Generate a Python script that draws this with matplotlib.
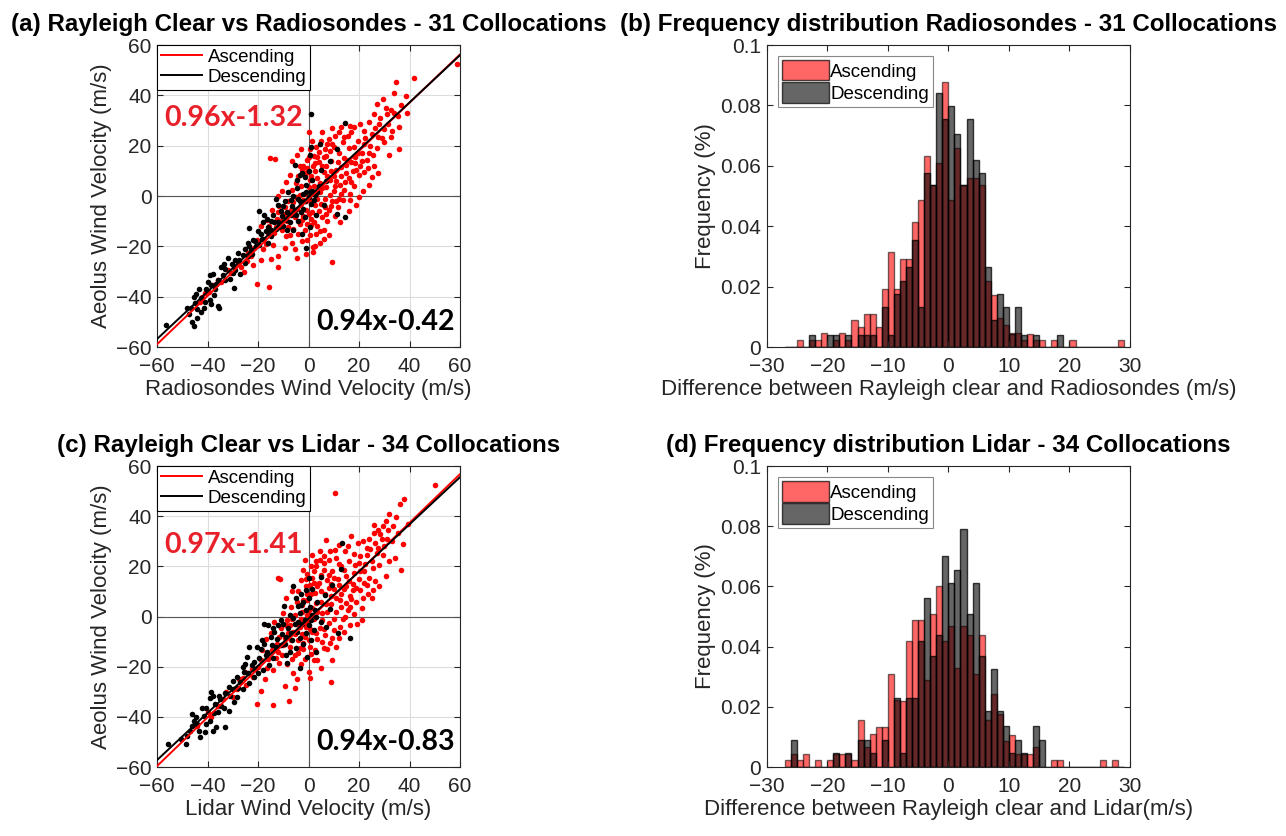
import numpy as np
import matplotlib.pyplot as plt
from matplotlib.patches import Patch

plt.rcParams['font.family'] = ['Liberation Sans', 'DejaVu Sans']

# ---- scatter data (x = reference wind, y = Aeolus wind) ----
asc_a = [
    (58.7, 52.5), (41.6, 47.0), (34.6, 45.3), (34.0, 40.8), (38.5, 39.6), (27.0, 36.7), (29.5, 38.5), (36.8, 36.0),
    (30.5, 35.0), (32.5, 34.0), (33.8, 33.0), (31.0, 32.5), (35.5, 32.0), (28.5, 31.0), (31.5, 28.5), (36.0, 27.5),
    (33.0, 26.0), (30.0, 26.5), (26.5, 27.0), (24.0, 29.5), (20.5, 28.5), (22.0, 26.0), (25.0, 24.5), (27.5, 23.5),
    (29.0, 23.0), (24.5, 20.0), (22.0, 20.5), (19.5, 22.0), (17.0, 25.5), (35.7, 18.7), (31.7, 16.3), (25.0, 7.5),
    (19.0, -3.4), (16.3, 0.7), (21.0, 17.0), (18.5, 15.5), (16.0, 19.0), (13.5, 21.5), (12.0, 17.0), (15.0, 12.5),
    (17.5, 10.0), (20.5, 12.0), (23.0, 14.5), (26.0, 12.0), (10.5, 24.0), (8.0, 22.5), (5.0, 22.0), (1.2, 22.0),
    (2.0, 16.0), (1.6, 12.0), (6.5, 18.5), (9.0, 14.0), (11.0, 10.5), (13.0, 8.0), (8.5, 6.5), (6.0, 9.5),
    (4.0, 13.5), (3.5, 7.0), (7.0, 3.5), (10.0, 2.0), (12.5, 4.5), (14.5, 5.5), (9.5, -2.0), (11.5, -4.5),
    (6.5, -1.0), (4.5, 1.5), (2.0, 4.0), (0.5, 6.5), (-1.0, 9.0), (-2.5, 10.5), (-4.0, 8.0), (-3.0, 4.0),
    (-1.5, 1.0), (0.5, -1.5), (2.5, -3.5), (4.0, -6.0), (5.5, -8.5), (7.5, -10.0), (3.5, -12.0), (1.0, -9.0),
    (-1.0, -5.5), (-3.0, -3.0), (-5.0, -0.5), (-6.5, 2.5), (-8.0, -2.0), (-7.0, -5.5), (-5.5, -8.5), (-3.5, -11.0),
    (-1.5, -13.5), (0.5, -15.5), (-4.0, -15.0), (-6.0, -13.0), (-8.5, -10.0), (-10.0, -7.0), (-11.5, -4.0), (-12.5, -9.0),
    (-10.5, -13.5), (-9.0, -16.0), (-6.5, -18.5), (-2.5, -18.0), (1.6, -20.4), (1.7, -22.4), (-4.5, -24.7), (-12.0, -24.0),
    (-15.0, -25.0), (-12.0, -28.0), (-15.6, -36.0), (-20.5, -35.0), (-19.0, -25.4), (-15.4, 15.1), (-13.3, 14.7), (9.3, -26.4),
    (-38.0, -35.3), (-36.0, -33.3), (-30.8, -30.7), (-26.8, -28.0), (-22.9, -24.0), (-20.3, -17.5), (-17.5, -17.0), (-13.0, -12.2),
    (-16.0, -14.5), (-14.0, -19.5), (-18.0, -21.0), (-24.0, -22.5), (-28.0, -26.5), (-32.0, -29.5), (-34.5, -34.0), (-41.0, -38.5),
    (-43.0, -42.0), (-25.5, -30.0), (-22.0, -27.5), (-10.5, 2.0), (-9.0, 5.5), (-12.0, 0.0), (-7.5, -15.5), (0.5, 18.5),
    (-0.5, 14.5), (3.0, 19.5), (5.5, 25.5), (7.0, 12.0), (10.0, 8.0), (16.0, 7.0), (18.0, 4.0), (20.0, 8.5),
    (22.0, 9.5), (14.0, 15.0), (17.0, 13.5), (11.5, 13.5), (13.0, 1.0), (8.0, -5.5), (5.0, -3.0), (-2.0, -8.0),
    (1.5, -6.5), (3.0, -15.0), (6.0, -13.5), (-4.5, 16.5), (-7.5, 8.5), (-14.5, -5.5), (-16.5, -9.5), (-19.0, -12.0),
    (39.0, 33.0), (-42.0, -40.0), (-39.5, -38.0), (2.5, 10.0), (4.5, 5.0), (6.0, 15.5), (8.5, 18.0), (12.0, 25.5),
    (15.5, 24.0), (18.0, 19.5), (9.5, 20.5), (7.5, 8.0), (3.0, 1.0), (0.0, 3.5), (-2.0, -1.5), (1.0, -11.5),
    (-0.5, -17.5), (4.5, -18.5), (10.5, -8.0), (13.5, -1.5), (-5.5, -21.0), (-9.5, -20.5), (21.5, 2.0), (24.0, 17.0),
    (-2.0, 12.0), (0.0, 15.5), (1.0, 8.0), (3.5, 15.5), (5.5, 12.0), (7.0, 16.0), (9.0, 10.0), (11.0, 6.0),
    (13.0, 11.5), (15.0, 9.0), (17.0, 5.5), (19.0, 10.5), (21.0, 14.0), (23.5, 11.0), (25.5, 16.5), (27.0, 19.0),
    (30.0, 21.5), (32.5, 23.5), (28.0, 28.5), (26.0, 32.5), (18.0, 27.5), (14.0, 23.5), (10.0, 19.5), (7.5, 20.5),
    (4.0, 17.5), (2.5, 13.0), (-0.5, 11.0), (-3.5, 12.0), (-5.0, 5.0), (-6.0, -2.5), (-9.5, -4.5), (-11.0, -10.0),
    (-13.5, -14.5), (-8.0, -12.5), (-4.5, -5.0), (-2.5, -9.5), (0.0, -7.0), (2.0, -10.5), (4.5, -14.0), (6.5, -4.5),
    (8.5, 0.5), (10.5, 4.0), (12.0, -1.0), (14.0, 2.5), (16.5, -1.5), (1.5, 1.5), (-1.0, -2.0), (-3.5, 0.5),
    (-0.5, -11.0), (3.5, -1.0), (5.5, 3.0), (7.0, -7.0), (9.0, -4.0), (11.0, -2.0), (15.5, 14.5), (19.5, 17.0),
    (22.5, 23.0), (16.5, 28.0), (13.0, 27.5), (9.5, 27.0), (0.0, 25.5), (-3.0, 18.5), (-6.5, 14.0), (-9.0, -8.0),
    (-12.0, -6.5), (-15.5, -12.0), (-17.0, -19.0), (-21.5, -20.5), (-24.5, -26.0), (-29.5, -28.0), (6.0, -17.0), (2.5, -20.0),
    (-1.0, -23.0), (8.0, -15.5), (12.5, -10.5), (16.0, -6.0), (20.0, -0.5), (18.5, 13.0), (24.0, 4.5), (27.5, 9.0),
]
desc_a = [
    (-56.4, -51.3), (-45.3, -51.7), (-44.0, -48.4), (-45.5, -40.0), (-45.0, -42.5), (-41.0, -42.0), (-39.0, -31.5), (-38.0, -30.8),
    (-36.0, -33.5), (-36.5, -34.8), (-40.5, -37.0), (-35.5, -44.5), (-36.0, -43.8), (-46.5, -44.5), (-44.0, -45.0), (-29.5, -36.6),
    (-27.5, -25.5), (-24.0, -24.0), (-22.9, -21.3), (-23.5, -12.7), (-22.0, -17.3), (-20.8, -20.0), (-16.2, -12.3), (-14.9, -13.6),
    (-12.0, -10.5), (-10.5, -8.0), (-8.5, -6.5), (-6.5, -4.0), (-5.0, -7.5), (-3.5, -2.0), (-2.0, -5.0), (-1.0, 1.5),
    (0.8, 32.8), (14.6, 29.2), (11.3, 18.7), (0.8, 19.5), (0.5, 16.5), (11.3, -7.0), (14.6, -8.3), (-0.8, -20.8),
    (-2.5, 9.0), (-3.2, 8.5), (-8.0, 1.5), (-6.0, 0.0), (-4.5, 3.0), (-12.0, -3.5), (-14.0, -7.5), (-18.0, -10.5),
    (-20.0, -14.0), (-25.0, -21.0), (-28.0, -22.5), (-30.5, -27.0), (-32.0, -24.5), (-33.0, -29.0), (-34.0, -31.5), (-31.0, -33.0),
    (-18.5, -17.0), (-16.0, -18.5), (-10.0, -12.0), (-7.5, -10.5), (-4.0, -10.0), (-1.5, -8.5), (1.0, -3.0), (2.5, 0.5),
    (4.0, 4.0), (3.0, -7.5), (6.0, -3.5), (1.5, 6.5), (0.0, 10.0), (-1.0, 4.5), (-9.5, -2.0), (-11.0, -6.0),
    (-13.0, -1.0), (-15.0, -10.0), (-17.5, -7.5), (-21.0, -18.0), (-23.5, -20.0), (-26.0, -23.5), (-37.5, -39.5), (-39.0, -41.5),
    (-42.5, -40.5), (-43.5, -37.0), (-48.0, -44.5), (-38.5, -35.5), (5.0, 10.5), (7.0, 6.0), (0.5, -12.5), (-2.5, -15.0),
    (-6.0, -13.5), (-5.5, 12.5), (8.5, 14.0), (4.5, 20.5), (-46.0, -50.0), (-33.5, -27.0), (-29.0, -29.5), (-19.5, -6.0),
    (-41.5, -44.5), (-38.5, -43.0), (-42.5, -46.0), (-37.0, -37.0), (-33.0, -33.5), (-30.0, -30.5), (-27.0, -31.0), (-25.0, -26.5),
    (-22.5, -23.0), (-19.5, -19.5), (-17.0, -14.0), (-15.0, -16.0), (-13.0, -13.0), (-11.5, -12.5), (-9.0, -9.5), (-7.0, -7.5),
    (-5.5, -5.5), (-3.0, -6.5), (-1.5, -2.0), (0.0, -0.5), (1.5, 2.0), (3.5, 1.5), (-2.0, 1.0), (-4.0, -1.0),
    (-7.0, -1.5), (-10.0, -4.0), (-13.5, -10.5), (-16.5, -9.0), (-19.0, -15.0), (-24.0, -18.5), (-29.0, -25.5), (-34.5, -28.0),
    (-40.0, -34.0), (-44.5, -39.0), (-47.5, -47.0), (-4.5, 6.5), (-1.5, 7.5), (0.5, 1.5), (2.0, -1.5), (-8.5, -13.5),
]
asc_c = [
    (50.1, 52.6), (10.5, 49.3), (38.0, 47.0), (36.3, 45.0), (32.0, 41.0), (34.5, 39.5), (30.5, 38.0), (29.5, 36.0),
    (33.5, 36.0), (27.5, 34.5), (25.8, 36.4), (28.5, 33.0), (31.0, 31.0), (35.5, 33.5), (34.3, 23.3), (30.0, 28.0),
    (26.5, 29.5), (24.0, 31.0), (23.0, 27.5), (27.0, 25.5), (29.5, 24.5), (20.5, 24.0), (22.5, 21.0), (25.5, 19.5),
    (28.0, 20.5), (36.6, 18.7), (30.8, 16.3), (25.2, 7.5), (19.3, -3.0), (20.5, 10.5), (18.0, 17.5), (16.0, 22.0),
    (14.5, 26.0), (12.0, 28.5), (17.5, 13.0), (15.0, 16.0), (13.0, 20.0), (11.0, 23.5), (8.5, 26.0), (2.9, 22.0),
    (3.1, 20.3), (0.8, 20.0), (6.0, 21.5), (9.5, 18.0), (11.5, 15.0), (14.0, 11.0), (16.5, 8.0), (19.0, 6.0),
    (22.0, 13.5), (24.0, 15.5), (21.0, 3.5), (12.5, 6.5), (10.0, 11.0), (7.5, 14.5), (5.0, 16.5), (3.5, 12.0),
    (6.5, 9.0), (9.0, 5.0), (11.0, 2.0), (13.5, -1.0), (15.5, 2.5), (8.0, -2.5), (5.5, 1.5), (3.0, 5.5),
    (1.0, 9.0), (-1.0, 12.0), (-3.0, 14.5), (-2.0, 6.5), (0.0, 2.5), (2.0, -1.0), (4.5, -4.5), (6.5, -7.5),
    (8.5, -10.5), (4.8, -20.5), (8.9, -26.0), (2.0, -17.5), (0.5, -12.0), (-1.5, -8.0), (-3.5, -4.0), (-5.5, 0.5),
    (-7.0, 4.0), (-8.5, -1.5), (-6.0, -6.0), (-4.0, -9.5), (-2.0, -13.0), (0.3, -22.0), (0.5, -24.5), (-3.0, -19.0),
    (-5.5, -15.5), (-7.5, -12.0), (-9.5, -8.5), (-11.0, -4.5), (-12.5, -11.0), (-10.5, -15.5), (-8.5, -19.0), (-6.0, -22.5),
    (-7.9, -33.5), (-14.2, -35.3), (-20.3, -34.9), (-17.4, -25.0), (-12.2, 15.4), (-11.3, 15.0), (-14.0, -21.5), (-16.0, -17.0),
    (-18.5, -13.5), (-20.0, -20.0), (-13.0, -16.5), (-24.6, -27.4), (-28.5, -28.8), (-32.5, -30.2), (-26.0, -24.5), (-22.0, -24.0),
    (-30.0, -32.0), (-36.0, -35.5), (-40.0, -38.0), (-44.0, -43.5), (-38.5, -40.0), (-34.0, -33.0), (-17.0, -9.0), (-15.0, -6.5),
    (-13.5, -2.0), (-10.0, 1.5), (-9.0, 7.5), (-6.5, 10.0), (-4.5, 6.0), (-2.5, 2.0), (-0.5, -2.5), (1.5, -6.0),
    (3.5, -9.0), (6.0, -12.5), (10.0, -5.5), (12.0, -8.5), (16.5, -3.5), (18.0, 1.0), (23.5, 9.0), (26.5, 14.0),
    (32.0, 22.0), (37.5, 29.0), (39.5, 37.0), (33.0, 30.0), (19.5, 29.5), (17.0, 32.0), (7.0, 30.5), (4.5, 26.0),
    (1.5, 15.5), (-0.5, 17.0), (2.5, 9.5), (5.0, 6.0), (7.5, 2.0), (10.0, -1.0), (1.0, 0.5), (-1.0, -4.0),
    (-3.0, -1.0), (-5.0, -3.0), (-2.5, -7.0), (0.0, -9.5), (2.5, -13.5), (-4.5, -25.0), (-9.5, -27.5), (13.0, 4.0),
    (15.0, 5.5), (17.5, 10.5), (20.0, 15.0), (22.0, 18.0), (9.0, 13.0), (6.0, 24.0), (-7.5, -3.5), (-11.5, -18.5),
    (28.0, 12.0), (21.0, -1.5), (11.0, -12.0), (-1.5, 22.5), (-5.5, -28.5), (-19.0, -29.5), (14.0, -6.0), (-0.5, 6.5),
    (-1.0, 15.0), (0.5, 12.5), (2.0, 18.0), (4.0, 13.5), (6.0, 18.5), (8.0, 11.5), (10.0, 15.5), (12.0, 12.5),
    (14.0, 18.5), (16.0, 14.0), (18.5, 20.5), (20.5, 18.0), (23.0, 24.5), (25.0, 22.0), (27.5, 27.5), (29.0, 31.0),
    (31.5, 34.5), (26.0, 33.5), (21.5, 30.0), (18.0, 25.0), (15.5, 28.0), (10.5, 26.5), (8.0, 22.5), (4.5, 22.5),
    (1.5, 24.5), (-2.0, 18.5), (-4.0, 10.0), (-2.5, 4.5), (-0.5, 0.5), (1.5, 3.5), (3.5, 2.0), (5.5, -1.5),
    (7.0, 5.0), (9.0, 8.0), (11.0, 7.5), (13.0, 9.0), (15.0, 12.0), (17.0, 7.0), (19.0, 11.5), (21.5, 7.5),
    (23.0, 12.5), (25.5, 10.5), (-6.5, -1.0), (-8.0, -6.5), (-10.0, -11.5), (-12.0, -14.0), (-14.5, -13.5), (-16.5, -20.5),
    (-19.0, -17.5), (-22.5, -21.0), (-25.0, -22.0), (-27.5, -25.0), (-4.0, -14.5), (-1.5, -17.0), (1.0, -15.0), (3.5, -17.5),
    (5.5, -10.0), (7.5, -13.0), (9.5, -8.5), (12.5, -4.0), (14.5, 0.0), (16.5, 4.0), (6.0, -5.0), (3.0, -6.5),
    (0.5, -5.0), (-2.0, -10.5), (-5.5, -7.0), (-7.0, -9.5), (-9.0, -3.5), (-11.5, -8.0), (8.0, 16.5), (12.0, 21.0),
    (5.0, 10.0), (2.0, 13.5), (-0.5, 9.0), (-3.5, -12.5), (9.5, -17.5), (-6.5, -17.0), (20.0, 21.5), (24.5, 27.0),
]
desc_c = [
    (-55.8, -51.0), (-48.5, -51.0), (-43.5, -45.5), (-43.0, -48.0), (-44.5, -40.0), (-46.0, -39.0), (-45.5, -41.5), (-41.5, -39.5),
    (-38.5, -30.0), (-38.0, -31.5), (-39.0, -32.5), (-37.0, -35.0), (-39.0, -41.5), (-36.5, -44.0), (-33.0, -44.0), (-34.5, -35.5),
    (-31.5, -37.5), (-28.5, -32.0), (-28.5, -24.0), (-24.5, -16.0), (-23.5, -12.0), (-21.5, -24.0), (-17.5, -3.0), (-16.0, -3.5),
    (-18.5, -9.5), (-22.5, -19.5), (13.1, 29.2), (13.0, 19.0), (0.3, 15.4), (4.8, 15.8), (11.8, -6.6), (16.5, -8.6),
    (5.1, -2.0), (-3.0, 4.5), (-4.3, 4.2), (-9.8, 4.2), (-3.0, 9.0), (-1.0, 10.5), (1.5, 11.0), (-6.0, -0.5),
    (-8.0, -4.5), (-10.5, -7.0), (-12.5, -9.0), (-14.5, -11.5), (-13.5, -6.0), (-11.0, -1.5), (-16.5, -14.0), (-19.5, -16.5),
    (-20.5, -12.0), (-25.5, -22.0), (-27.0, -26.0), (-30.0, -25.5), (-31.5, -28.0), (-33.0, -30.5), (-35.0, -33.0), (-26.0, -20.0),
    (-6.5, -9.5), (-4.5, -6.0), (-2.5, -3.0), (-1.0, -6.5), (1.0, -1.5), (2.5, 2.5), (3.5, 6.0), (0.5, 4.0),
    (-7.5, -14.0), (-9.5, -11.0), (-5.0, -12.5), (-2.0, -11.0), (1.0, -9.5), (3.0, -14.0), (-8.5, -18.5), (-15.5, -19.5),
    (-18.0, -21.5), (-23.5, -26.5), (-40.5, -43.0), (-42.0, -36.5), (-47.0, -45.5), (-50.5, -49.0), (7.0, -4.0), (6.5, 8.5),
    (8.5, 3.0), (-0.5, -16.0), (-3.5, -20.5), (-12.0, -3.5), (-6.0, 12.0), (9.5, 12.5), (-29.5, -34.0), (-36.0, -38.0),
    (-21.0, -21.0), (-4.0, -2.0), (-14.0, -16.5), (2.0, -5.5),
    (-41.0, -46.0), (-38.0, -45.5), (-44.0, -43.0), (-37.5, -38.5), (-33.5, -36.5), (-31.0, -31.5), (-28.0, -28.5), (-26.0, -29.0),
    (-24.0, -22.5), (-21.5, -18.0), (-19.0, -13.0), (-17.0, -15.5), (-15.0, -8.0), (-13.0, -12.0), (-11.0, -11.5), (-9.0, -8.0),
    (-7.0, -6.5), (-5.5, -3.0), (-3.5, -8.5), (-1.5, -1.5), (0.0, -3.5), (1.5, 0.5), (-1.0, 2.5), (-3.5, 1.5),
    (-7.5, 0.5), (-10.0, -3.0), (-14.0, -4.5), (-17.5, -11.0), (-20.0, -22.5), (-25.0, -19.0), (-30.0, -29.0), (-35.5, -31.5),
    (-40.5, -36.5), (-46.0, -43.5), (-48.0, -47.5), (-5.0, 7.5), (-2.0, 6.0), (0.0, 7.5), (3.0, 0.0), (-9.0, -15.5),
]

# linear fits (slope, intercept)
fit_asc_a = (0.96, -1.32)
fit_desc_a = (0.94, -0.42)
fit_asc_c = (0.97, -1.41)
fit_desc_c = (0.94, -0.83)

# ---- histogram data: bin left edges and relative frequency ----
bins = list(range(-27, 29))
hist_b_asc = [0, 0, 0.0022, 0, 0.0022, 0.0022, 0.0045, 0, 0.0022, 0.0045, 0.0022, 0.0089, 0.0067, 0.0111,
              0.0111, 0.0067, 0.0192, 0.0315, 0.0192, 0.0291, 0.0291, 0.0414, 0.0486, 0.0633, 0.0535, 0.0608,
              0.0878, 0.0486, 0.0658, 0.0535, 0.0561, 0.0561, 0.0536, 0.0219, 0.0171, 0.0097, 0.0072, 0.0046,
              0.0046, 0.0022, 0.0044, 0.0022, 0.0022, 0, 0.0022, 0, 0, 0.0022, 0, 0, 0, 0, 0, 0, 0, 0.0022]
hist_b_desc = [0, 0, 0, 0, 0.0041, 0, 0, 0.0041, 0.0041, 0, 0.0041, 0, 0.0041, 0.0041,
               0.0041, 0, 0.0131, 0.0041, 0.0175, 0.0219, 0.0265, 0.0354, 0.0131, 0.0575, 0.0535, 0.0842,
               0.0754, 0.0799, 0.0707, 0.0535, 0.0754, 0.0621, 0.0577, 0.0265, 0.0089, 0.0175, 0.0131, 0.0044,
               0.0131, 0.0041, 0, 0.0041, 0, 0, 0, 0.0041, 0, 0, 0, 0, 0, 0, 0, 0, 0, 0]
hist_d_asc = [0.0022, 0.0044, 0.0022, 0.0044, 0, 0.0022, 0, 0.0022, 0.0044, 0.0044, 0.0044, 0.0022, 0.0155, 0.0066,
              0.011, 0.0133, 0.0133, 0.031, 0.0222, 0.022, 0.042, 0.049, 0.049, 0.029, 0.051, 0.060,
              0.042, 0.047, 0.033, 0.047, 0.044, 0.031, 0.044, 0.0155, 0.0243, 0.0177, 0.0085, 0.0107,
              0.0044, 0.0044, 0.0044, 0.0066, 0, 0, 0.0022, 0.0022, 0, 0, 0, 0, 0, 0, 0.0022, 0, 0.0022, 0]
hist_d_desc = [0, 0.009, 0, 0, 0, 0, 0, 0, 0.0045, 0, 0.0045, 0, 0.009, 0.009,
               0.0045, 0, 0.009, 0, 0.023, 0.0045, 0.023, 0.023, 0.042, 0.056, 0.037, 0.044,
               0.070, 0.061, 0.0655, 0.079, 0.051, 0.061, 0.037, 0.0185, 0.0325, 0.0185, 0.0135, 0.0045,
               0.009, 0.0045, 0, 0.0135, 0.009, 0, 0, 0, 0, 0, 0, 0, 0, 0, 0, 0, 0, 0]

AX_COLOR = '#262626'
EQ_RED = '#e8202a'
TICK_FS = 15
LABEL_FS = 16
TITLE_FS = 17.4


def style_axes(ax):
    for s in ax.spines.values():
        s.set_color(AX_COLOR)
        s.set_linewidth(0.8)
    ax.tick_params(direction='in', top=True, right=True, labelsize=TICK_FS,
                   colors=AX_COLOR, length=4, width=0.8)
    ax.tick_params(axis='x', pad=7.5)
    ax.tick_params(axis='y', pad=4)


def scatter_panel(ax, asc, desc, fit_a, fit_d, eq_a, eq_d, eq_a_y, xlabel, title):
    asc = np.array(asc)
    desc = np.array(desc)
    ax.grid(True, color='#dcdcdc', lw=0.8)
    ax.set_axisbelow(True)
    ax.axhline(0, color='#555555', lw=0.8, zorder=1)
    ax.axvline(0, color='#555555', lw=0.8, zorder=1)
    ax.scatter(asc[:, 0], asc[:, 1], s=16, color='red', linewidths=0, zorder=2)
    ax.scatter(desc[:, 0], desc[:, 1], s=16, color='black', linewidths=0, zorder=3)
    xf = np.array([-60, 60])
    ax.plot(xf, fit_a[0] * xf + fit_a[1], color='red', lw=1.4, label='Ascending', zorder=4)
    ax.plot(xf, fit_d[0] * xf + fit_d[1], color='black', lw=1.4, label='Descending', zorder=5)
    ax.set_xlim(-60, 60)
    ax.set_ylim(-60, 60)
    ax.set_xticks(range(-60, 61, 20))
    ax.set_yticks(range(-60, 61, 20))
    style_axes(ax)
    leg = ax.legend(loc='upper left', fontsize=13.5, frameon=True, fancybox=False,
                    edgecolor='black', framealpha=1, borderaxespad=0, borderpad=0.2,
                    labelspacing=0.15, handlelength=2.2, handletextpad=0.3)
    leg.get_frame().set_linewidth(0.8)
    ax.text(0.2525, eq_a_y, eq_a, transform=ax.transAxes, ha='center', va='center',
            fontsize=20.5, fontweight='bold', color=EQ_RED, family=['Lato', 'DejaVu Sans'], zorder=6)
    ax.text(0.754, 0.083, eq_d, transform=ax.transAxes, ha='center', va='center',
            fontsize=20.5, fontweight='bold', color='black', family=['Lato', 'DejaVu Sans'], zorder=6)
    ax.set_xlabel(xlabel, fontsize=LABEL_FS, color=AX_COLOR, labelpad=2)
    ax.set_ylabel('Aeolus Wind Velocity (m/s)', fontsize=LABEL_FS, color=AX_COLOR, labelpad=3)
    ax.set_title(title, fontsize=TITLE_FS, fontweight='bold', pad=10)


def hist_panel(ax, asc, desc, xlabel, title):
    ax.bar(bins, asc, width=1, align='edge', color=(1, 0, 0, 0.6),
           edgecolor=(0, 0, 0, 0.55), linewidth=1.0)
    ax.bar(bins, desc, width=1, align='edge', color=(0, 0, 0, 0.6),
           edgecolor=(0, 0, 0, 0.75), linewidth=1.0)
    ax.set_xlim(-30, 30)
    ax.set_ylim(0, 0.1)
    ax.set_xticks(range(-30, 31, 10))
    ax.set_yticks([0, 0.02, 0.04, 0.06, 0.08, 0.1])
    ax.set_yticklabels(['0', '0.02', '0.04', '0.06', '0.08', '0.1'])
    style_axes(ax)
    handles = [Patch(facecolor=(1, 0, 0, 0.6), edgecolor=(0, 0, 0, 0.7), label='Ascending'),
               Patch(facecolor=(0, 0, 0, 0.6), edgecolor=(0, 0, 0, 0.7), label='Descending')]
    leg = ax.legend(handles=handles, loc='upper left', fontsize=13.5, fancybox=False,
                    edgecolor='#888888', framealpha=1, borderaxespad=0.6, borderpad=0.2,
                    labelspacing=0.1, handlelength=2.5, handleheight=1.3, handletextpad=0.1)
    leg.get_frame().set_linewidth(0.8)
    ax.set_xlabel(xlabel, fontsize=LABEL_FS, color=AX_COLOR, labelpad=2)
    ax.set_ylabel('Frequency (%)', fontsize=LABEL_FS, color=AX_COLOR, labelpad=3)
    ax.set_title(title, fontsize=TITLE_FS, fontweight='bold', pad=10)


fig = plt.figure(figsize=(12.86, 8.36), dpi=100)
ax_a = fig.add_axes([0.1221, 0.5849, 0.2356, 0.3612])
ax_b = fig.add_axes([0.5962, 0.5849, 0.2825, 0.3612])
ax_c = fig.add_axes([0.1221, 0.0825, 0.2356, 0.3600])
ax_d = fig.add_axes([0.5962, 0.0825, 0.2825, 0.3600])

scatter_panel(ax_a, asc_a, desc_a, fit_asc_a, fit_desc_a, '0.96x-1.32', '0.94x-0.42', 0.758,
              'Radiosondes Wind Velocity (m/s)', '(a) Rayleigh Clear vs Radiosondes - 31 Collocations')
hist_panel(ax_b, hist_b_asc, hist_b_desc,
           'Difference between Rayleigh clear and Radiosondes (m/s)',
           '(b) Frequency distribution Radiosondes - 31 Collocations')
scatter_panel(ax_c, asc_c, desc_c, fit_asc_c, fit_desc_c, '0.97x-1.41', '0.94x-0.83', 0.7375,
              'Lidar Wind Velocity (m/s)', '(c) Rayleigh Clear vs Lidar - 34 Collocations')
hist_panel(ax_d, hist_d_asc, hist_d_desc,
           'Difference between Rayleigh clear and Lidar(m/s)',
           '(d) Frequency distribution Lidar - 34 Collocations')

fig.savefig('out.png', dpi=100)
